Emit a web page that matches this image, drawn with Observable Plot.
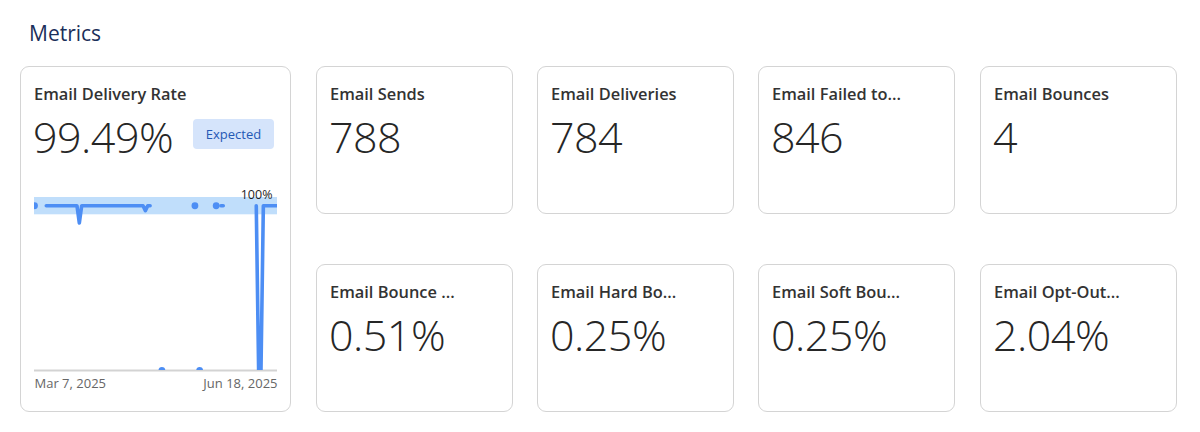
<!DOCTYPE html>
<html>
<head>
<meta charset="utf-8">
<script src="https://cdn.jsdelivr.net/npm/d3@7"></script>
<script src="https://cdn.jsdelivr.net/npm/@observablehq/plot@0.6"></script>
<style>
  html, body { margin: 0; padding: 0; background: #fff; }
  body { width: 1200px; height: 432px; position: relative; overflow: hidden;
         font-family: "Open Sans", "Noto Sans", sans-serif; color: #333; }
  .heading { position: absolute; left: 29px; top: 19px; font-size: 21px; color: #1b2f5a; font-weight: 400; }
  .card { position: absolute; box-sizing: border-box; border: 1px solid #d4d4d4; border-radius: 9px; background: #fff; }
  .title { position: absolute; font-size: 16.4px; font-weight: 600; color: #333; white-space: nowrap; }
  .value { position: absolute; font-size: 43px; font-weight: 300; color: #262626; white-space: nowrap; letter-spacing: -0.5px; }
  .badge { position: absolute; left: 172px; top: 52px; width: 81px; height: 30px; border-radius: 4px;
           background: #d5e4fb; color: #2459b5; font-size: 13px; line-height: 30px; text-align: center; }
  #spark { position: absolute; left: 27px; top: 180px; }
</style>
</head>
<body>
<div class="heading">Metrics</div>
<div id="root"></div>
<script>
// ---- Card data ----
const mainTitle = "Email Delivery Rate";
const mainValue = "99.49%";
const mainBadge = "Expected";
const cardTitles = ["Email Sends", "Email Deliveries", "Email Failed to...", "Email Bounces",
                    "Email Bounce ...", "Email Hard Bo...", "Email Soft Bou...", "Email Opt-Out..."];
const cardValues = ["788", "784", "846", "4", "0.51%", "0.25%", "0.25%", "2.04%"];

// ---- Sparkline data (daily delivery rate, %; null = no data) ----
const startDate = "2025-03-07";
const endDate = "2025-06-18";
const dailyRate = [
  100, null, null, null, null, 100, 100, 100, 100, 100,      // Mar 7 - Mar 16
  100, 100, 100, 100, 100, 100, 100, 100, 100, 89.5,         // Mar 17 - Mar 26
  100, 100, 100, 100, 100, 100, 100, 100, 100, 100,          // Mar 27 - Apr 5
  100, 100, 100, 100, 100, 100, 100, 100, 100, 100,          // Apr 6 - Apr 15
  100, 100, 100, 100, 100, 100, 100, 97, 100, 100,           // Apr 16 - Apr 25
  null, null, null, null, 0, null, null, null, null, null,   // Apr 26 - May 5
  null, null, null, null, null, null, null, null, 100, null, // May 6 - May 15
  0, null, null, null, null, null, null, 100, null, 100,     // May 16 - May 25
  100, null, null, null, null, null, null, null, null, null, // May 26 - Jun 4
  null, null, null, null, 100, 0, 0, 100, 100, 100,          // Jun 5 - Jun 14
  100, 100, 100, 100                                         // Jun 15 - Jun 18
];
const expectedLow = 94.5;
const expectedHigh = 105;
const peakLabel = "100%";
const tickLabels = ["Mar 7, 2025", "Jun 18, 2025"];

// ---- Build cards ----
const root = document.getElementById("root");
function el(tag, cls, text, style) {
  const e = document.createElement(tag);
  if (cls) e.className = cls;
  if (text != null) e.textContent = text;
  if (style) Object.assign(e.style, style);
  return e;
}
const main = el("div", "card", null, {left: "20px", top: "66px", width: "271px", height: "346px"});
main.appendChild(el("div", "title", mainTitle, {left: "13px", top: "15px"}));
main.appendChild(el("div", "value", mainValue, {left: "12px", top: "40px"}));
main.appendChild(el("div", "badge", mainBadge));
root.appendChild(main);

const lefts = [316, 537, 758, 980];
const tops = [66, 264];
cardTitles.forEach((t, i) => {
  const c = el("div", "card", null, {
    left: lefts[i % 4] + "px", top: tops[Math.floor(i / 4)] + "px", width: "197px", height: "148px"
  });
  c.appendChild(el("div", "title", t, {left: "13px", top: "15px"}));
  c.appendChild(el("div", "value", cardValues[i], {left: "12px", top: "40px"}));
  root.appendChild(c);
});

// ---- Sparkline ----
const parse = d3.utcParse("%Y-%m-%d");
const t0 = parse(startDate), t1 = parse(endDate);
const days = d3.utcDay.range(t0, d3.utcDay.offset(t1, 1));
const series = days.map((date, i) => ({date, value: dailyRate[i]}));
const isolated = series.filter((d, i) =>
  d.value != null && (i === 0 || series[i - 1].value == null) &&
  (i === series.length - 1 || series[i + 1].value == null));

const lineColor = "#4d8ef4";
const chart = Plot.plot({
  width: 257,
  height: 215,
  marginLeft: 7,
  marginRight: 7,
  marginTop: 17,
  marginBottom: 25,
  style: {fontFamily: "'Open Sans', 'Noto Sans', sans-serif", fontSize: "13px", overflow: "visible", background: "transparent"},
  x: {type: "utc", domain: [t0, t1], axis: null},
  y: {domain: [0, 105], axis: null},
  marks: [
    Plot.rect([{}], {x1: () => t0, x2: () => t1, y1: () => expectedLow, y2: () => expectedHigh, fill: "#c0defb"}),
    Plot.ruleY([0], {stroke: "#d3d3d3", strokeWidth: 2}),
    Plot.lineY(series, {x: "date", y: "value", stroke: lineColor, strokeWidth: 3.6, clip: true}),
    Plot.dot(isolated, {x: "date", y: "value", r: 3.4, fill: lineColor, clip: true}),
    Plot.text([{date: t1, value: 100}], {x: "date", y: "value", text: () => peakLabel, textAnchor: "end",
      dx: -5, dy: -11, fill: "#1f1f1f", fontSize: 12.5}),
    Plot.text([tickLabels[0]], {x: () => t0, frameAnchor: "bottom", text: d => d, textAnchor: "start",
      dy: 17, fill: "#666", fontSize: 13}),
    Plot.text([tickLabels[1]], {x: () => t1, frameAnchor: "bottom", text: d => d, textAnchor: "end",
      dy: 17, fill: "#666", fontSize: 13})
  ]
});
chart.id = "spark";
document.body.appendChild(chart);
</script>
</body>
</html>
